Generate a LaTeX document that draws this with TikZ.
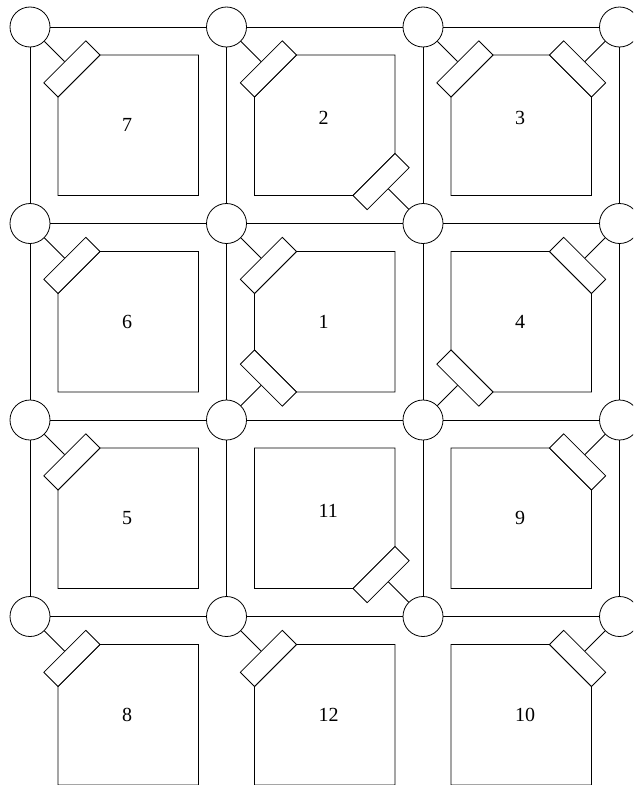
\documentclass[tikz,border=0pt]{standalone}
\usepackage{fontspec}
\setmainfont{Liberation Serif}
\tikzset{
  fpjunction/.style={
    draw,
    circle,
    fill=white,
    minimum size=30pt,
    inner sep=0pt
  },
  fproom/.style={draw},
  fpdoor/.style={
    draw,
    fill=white,
    rectangle,
    minimum width=44.5pt,
    minimum height=15pt,
    inner sep=0pt
  },
  fplink/.style={draw},
  fplabel/.style={anchor=west,inner sep=0pt,font=\fontsize{15}{18}\selectfont}
}

\begin{document}
\begin{tikzpicture}[x=0.75pt,y=-0.75pt,line width=0.6pt]
  \clip (0,0) rectangle (633,785);
  % junctions on the corridor grid
  \foreach \r in {0,...,3}
    \foreach \c in {0,...,3}
      \node[fpjunction] (j\r\c) at (30+196.5*\c,27+196.5*\r) {};
  % corridors
  \foreach \r in {0,...,3}
    \foreach \c in {0,1,2} {
      \pgfmathtruncatemacro{\nc}{\c+1}
      \draw[fplink] (j\r\c) -- (j\r\nc);
    }
  \foreach \r in {0,1,2}
    \foreach \c in {0,...,3} {
      \pgfmathtruncatemacro{\nr}{\r+1}
      \draw[fplink] (j\r\c) -- (j\nr\c);
    }
  % rooms: row/col/label/tl/tr/br/bl/shift up
  \foreach \r/\c/\lab/\tl/\tr/\br/\bl/\up in {
      0/0/7/1/0/0/0/0, 0/1/2/1/0/1/0/7, 0/2/3/1/1/0/0/7,
      1/0/6/1/0/0/0/0, 1/1/1/1/0/0/1/0, 1/2/4/0/1/0/1/0,
      2/0/5/1/0/0/0/0, 2/1/11/0/0/1/0/7, 2/2/9/0/1/0/0/0,
      3/0/8/1/0/0/0/0, 3/1/12/1/0/0/0/0, 3/2/10/0/1/0/0/0} {
    \pgfmathsetmacro{\x}{30+196.5*\c}
    \pgfmathsetmacro{\y}{27+196.5*\r}
    \draw[fproom] (\x+28+\tl*42,\y+28) -- (\x+168.5-\tr*42,\y+28)
      -- (\x+168.5,\y+28+\tr*42) -- (\x+168.5,\y+168.5-\br*42)
      -- (\x+168.5-\br*42,\y+168.5) -- (\x+28+\bl*42,\y+168.5)
      -- (\x+28,\y+168.5-\bl*42) -- (\x+28,\y+28+\tl*42) -- cycle;
    \node[fplabel] (l\lab) at (\x+91.75,\y+98.25-\up) {\lab};
  }
  % doors: junction row/col and direction to the room
  \foreach \r/\c/\sx/\sy [count=\i] in {
      0/0/1/1, 0/1/1/1, 1/2/-1/-1, 0/2/1/1, 0/3/-1/1,
      1/0/1/1, 1/1/1/1, 2/1/1/-1, 1/3/-1/1, 2/2/1/-1,
      2/0/1/1, 3/2/-1/-1, 2/3/-1/1,
      3/0/1/1, 3/1/1/1, 3/3/-1/1} {
    \node[fpdoor,rotate={45*\sx*\sy}] (d\i)
      at (30+196.5*\c+\sx*41.9,27+196.5*\r+\sy*41.9) {};
    \draw[fplink] (d\i) -- (j\r\c);
  }
\end{tikzpicture}
\end{document}
